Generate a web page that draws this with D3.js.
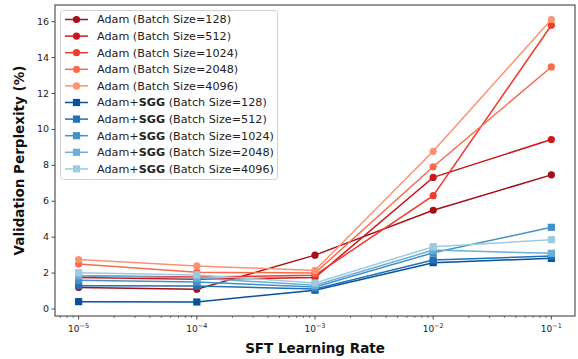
<!DOCTYPE html>
<html><head><meta charset="utf-8">
<script src="https://cdn.jsdelivr.net/npm/d3@7"></script>
<style>body{margin:0;background:#fff}svg{display:block;font-family:"DejaVu Sans",sans-serif}</style>
</head><body>
<script>
const learningRates = [1e-5, 1e-4, 1e-3, 1e-2, 1e-1];
const batchSizes = [128, 512, 1024, 2048, 4096];
const adam128  = [1.2, 1.1, 3.0, 5.5, 7.47];
const adam512  = [1.75, 1.65, 1.75, 7.33, 9.44];
const adam1024 = [1.85, 1.78, 1.88, 6.31, 15.8];
const adam2048 = [2.5, 2.05, 2.0, 7.92, 13.48];
const adam4096 = [2.75, 2.4, 2.15, 8.78, 16.12];
const sgg128  = [0.41, 0.39, 1.05, 2.58, 2.82];
const sgg512  = [1.3, 1.28, 1.12, 2.73, 2.95];
const sgg1024 = [1.6, 1.5, 1.22, 3.13, 4.55];
const sgg2048 = [1.85, 1.72, 1.32, 3.28, 3.1];
const sgg4096 = [2.02, 1.9, 1.45, 3.47, 3.86];
const yTicks = [0, 2, 4, 6, 8, 10, 12, 14, 16];
const xTickExps = [-5, -4, -3, -2, -1];
const redColors = ["#a50f15", "#cb181d", "#ef3b2c", "#fb6a4a", "#fc9272"];
const blueColors = ["#08519c", "#2171b5", "#4292c6", "#6baed6", "#9ecae1"];

const adamSeries = [adam128, adam512, adam1024, adam2048, adam4096];
const sggSeries = [sgg128, sgg512, sgg1024, sgg2048, sgg4096];
const series = [];
adamSeries.forEach((v, i) => series.push({opt: "Adam", bs: batchSizes[i], values: v, color: redColors[i], marker: "circle"}));
sggSeries.forEach((v, i) => series.push({opt: "SGG", bs: batchSizes[i], values: v, color: blueColors[i], marker: "square"}));

const W = 578, H = 359;
const m = {left: 55, right: 3, top: 5, bottom: 43};
const svg = d3.select("body").append("svg").attr("width", W).attr("height", H);
const x = d3.scaleLog().domain([Math.pow(10, -5.2), Math.pow(10, -0.8)]).range([m.left, W - m.right]);
const y = d3.scaleLinear().domain([-0.39, 16.93]).range([H - m.bottom, m.top]);

// axes
const xAxis = svg.append("g").attr("transform", `translate(0,${H - m.bottom})`);
const minor = [];
for (let e = -6; e <= 0; e++) for (let k = 2; k <= 9; k++) { const v = k * Math.pow(10, e); if (v > x.domain()[0] && v < x.domain()[1]) minor.push(v); }
xAxis.selectAll("line.minor").data(minor).join("line").attr("x1", d => x(d)).attr("x2", d => x(d)).attr("y1", 0).attr("y2", 2).attr("stroke", "#222").attr("stroke-width", 0.6);
const xt = xAxis.selectAll("g.tick").data(xTickExps).join("g").attr("transform", d => `translate(${x(Math.pow(10, d))},0)`);
xt.append("line").attr("y2", 3.5).attr("stroke", "#222").attr("stroke-width", 0.8);
const xtx = xt.append("text").attr("y", 16).attr("text-anchor", "middle").attr("font-size", 9).attr("fill", "#222");
xtx.append("tspan").text("10");
xtx.append("tspan").attr("dy", -4).attr("font-size", 6.5).text(d => "\u2212" + Math.abs(d));

const yAxis = svg.append("g").attr("transform", `translate(${m.left},0)`);
const yt = yAxis.selectAll("g").data(yTicks).join("g").attr("transform", d => `translate(0,${y(d)})`);
yt.append("line").attr("x2", -3.5).attr("stroke", "#222").attr("stroke-width", 0.8);
yt.append("text").attr("x", -6).attr("dy", "0.32em").attr("text-anchor", "end").attr("font-size", 9.5).attr("fill", "#222").text(d => d);

// lines
const line = d3.line().x((d, i) => x(learningRates[i])).y(d => y(d));
const plot = svg.append("g");
series.forEach(s => {
  plot.append("path").datum(s.values).attr("d", line).attr("fill", "none").attr("stroke", s.color).attr("stroke-width", 1.5);
  if (s.marker === "circle") {
    plot.selectAll(null).data(s.values).join("circle").attr("cx", (d, i) => x(learningRates[i])).attr("cy", d => y(d)).attr("r", 3.6).attr("fill", s.color);
  } else {
    plot.selectAll(null).data(s.values).join("rect").attr("x", (d, i) => x(learningRates[i]) - 3.6).attr("y", d => y(d) - 3.6).attr("width", 7.2).attr("height", 7.2).attr("fill", s.color);
  }
});

// frame
svg.append("rect").attr("x", m.left).attr("y", m.top).attr("width", W - m.left - m.right).attr("height", H - m.top - m.bottom).attr("fill", "none").attr("stroke", "#333").attr("stroke-width", 1);

// legend
const lg = svg.append("g");
lg.append("rect").attr("x", 60.5).attr("y", 10.5).attr("width", 217).attr("height", 169).attr("rx", 3).attr("fill", "rgba(255,255,255,0.8)").attr("stroke", "#d0d0d0").attr("stroke-width", 1);
series.forEach((s, i) => {
  const yy = 19.5 + i * 16.6;
  const g = lg.append("g").attr("transform", `translate(0,${yy})`);
  g.append("line").attr("x1", 65).attr("x2", 88).attr("stroke", s.color).attr("stroke-width", 1.5);
  if (s.marker === "circle") g.append("circle").attr("cx", 76.5).attr("r", 3.6).attr("fill", s.color);
  else g.append("rect").attr("x", 72.9).attr("y", -3.6).attr("width", 7.2).attr("height", 7.2).attr("fill", s.color);
  const t = g.append("text").attr("x", 97).attr("dy", "0.35em").attr("font-size", 11.2).attr("fill", "#222");
  if (s.opt === "Adam") t.text(`Adam (Batch Size=${s.bs})`);
  else {
    t.append("tspan").text("Adam+");
    t.append("tspan").attr("font-weight", "bold").text("SGG");
    t.append("tspan").text(` (Batch Size=${s.bs})`);
  }
});

// axis labels
svg.append("text").attr("x", (m.left + W - m.right) / 2).attr("y", 353).attr("text-anchor", "middle").attr("font-size", 13.5).attr("font-weight", "bold").attr("fill", "#111").text("SFT Learning Rate");
svg.append("text").attr("transform", `translate(24,${(m.top + H - m.bottom) / 2}) rotate(-90)`).attr("text-anchor", "middle").attr("font-size", 13.5).attr("font-weight", "bold").attr("fill", "#111").text("Validation Perplexity (%)");
</script>
</body></html>
